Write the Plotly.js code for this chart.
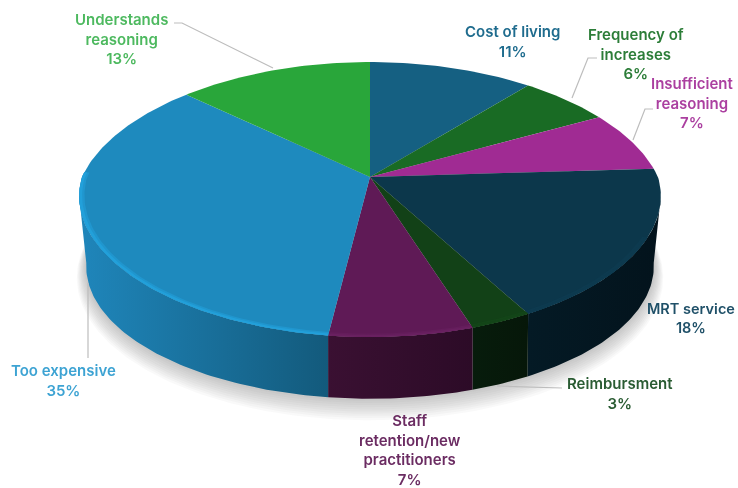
<!DOCTYPE html>
<html>
<head>
<meta charset="utf-8">
<script src="https://cdn.plot.ly/plotly-3.0.1.min.js"></script>
<style>html,body{margin:0;padding:0;background:#fff}#chart{width:738px;height:488px;filter:blur(0.45px)}</style>
</head>
<body>
<div id="chart"></div>
<script>
// ---- values ----
const categories = ["Cost of living","Frequency of<br>increases","Insufficient<br>reasoning","MRT service","Reimbursment","Staff<br>retention/new<br>practitioners","Too expensive","Understands<br>reasoning"];
const shares = [11,6,7,18,3,7,35,13];
const faceColors = ["#156082","#196B24","#A02B93","#0C374B","#124117","#5F1A56","#1E8ABE","#29A63A"];
const wallLeft  = ["#156082","#196B24","#A02B93","#041A25","#071C0C","#3A1032","#1F86BB","#29A63A"];
const wallRight = ["#156082","#196B24","#A02B93","#03131C","#061709","#2C0B27","#135A7C","#29A63A"];
const rimColors = [null,null,null,"#0D3A4F","#134518","#692060","#22A0DA",null];
const rimSoft   = [null,null,null,"#0D3A4F","#134518","#641D5B","#2096CE",null];
const labelColors = ["#1F6C8E","#2C7D38","#AB3FA0","#1F5068","#2A5C33","#6B2C62","#3DA3D3","#4DB95F"];
const labelX = [512,636,692,691,620,410,63,121];
const labelY = [41,54,103,318,393,450,380,39];

// ---- projection of the tilted disc ----
const cx = 370;
const top_ = {A:288, a:133.8, y0:177, wy:0.1636, wBack:0.21, wFront:0.14};
const bot_ = {A:280, a:129, y0:244.5, wy:0.1636, wBack:0.1636, wFront:0.1636};
function pt(g, deg, r){
  const t = deg*Math.PI/180, u = r*Math.sin(t), v = -r*Math.cos(t);
  const wx = v<0 ? g.wBack : g.wFront;
  return [cx + g.A*u/(1-wx*v), g.y0 + g.a*v/(1-g.wy*v)];
}
function arc(g, from, to, r){
  const out = [], n = Math.max(2, Math.ceil(Math.abs(to-from)));
  for(let i=0;i<=n;i++) out.push(pt(g, from+(to-from)*i/n, r));
  return out;
}
function poly(points, extra){
  return Object.assign({type:"scatter", mode:"lines", x:points.map(p=>p[0]), y:points.map(p=>p[1]),
    fill:"toself", line:{width:0}, hoverinfo:"skip", showlegend:false}, extra);
}

const total = shares.reduce((s,v)=>s+v,0);
const edges = [0];
shares.forEach(v=>edges.push(edges[edges.length-1]+v/total*360));

const traces = [];
// soft ground shadow
for(let i=10;i>=1;i--){
  const g = Object.assign({},bot_,{A:bot_.A*(1+i*0.0033), a:bot_.a*(1+i*0.0075), y0:bot_.y0+i*1.0});
  traces.push(poly(arc(g,0,360,1), {fillcolor:"rgba(90,90,90,0.036)"}));
}
// walls
const VIS0 = 98, VIS1 = 262;
shares.forEach((v,i)=>{
  const a = Math.max(edges[i],VIS0), b = Math.min(edges[i+1],VIS1);
  if(b<=a) return;
  const pts = arc(top_,a,b,1).concat(arc(bot_,b,a,1));
  traces.push(poly(pts,{fillcolor:wallLeft[i], fillgradient:{type:"horizontal",colorscale:[[0,wallLeft[i]],[1,wallRight[i]]]}}));
});
// faces
shares.forEach((v,i)=>{
  const pts = [[cx,top_.y0]].concat(arc(top_,edges[i],edges[i+1],1));
  traces.push(poly(pts,{fillcolor:faceColors[i]}));
});
// lit bevel along the front edge
shares.forEach((v,i)=>{
  if(!rimColors[i]) return;
  const a = Math.max(edges[i],115), b = Math.min(edges[i+1],272);
  if(b<=a) return;
  traces.push(poly(arc(top_,a,b,1).concat(arc(top_,b,a,0.982)),{fillcolor:rimSoft[i]}));
  traces.push(poly(arc(top_,a,b,1).concat(arc(top_,b,a,0.99)),{fillcolor:rimColors[i]}));
});

const annotations = categories.map((c,i)=>({
  xref:"x", yref:"y", x:labelX[i], y:labelY[i], xanchor:"center", yanchor:"middle", align:"center",
  showarrow:false, borderpad:0,
  text:c+"<br>"+shares[i]+"%",
  font:{family:"Inter, sans-serif", size:i===3?14.5:15, color:labelColors[i], weight:600}
}));

const leader = d => ({type:"path", path:d, xref:"x", yref:"y", line:{color:"#BDBDBD", width:1.2}});
const shapes = [
  leader("M174,23 L182,23 L273,68"),
  leader("M597,58 L588,58 L572,98"),
  leader("M653,109 L645,109 L633,140"),
  leader("M88,283 L88,358"),
  leader("M497,386 L562,388")
];

Plotly.newPlot("chart", traces, {
  width:738, height:488, margin:{l:0,r:0,t:0,b:0},
  paper_bgcolor:"#fff", plot_bgcolor:"#fff", showlegend:false, hovermode:false,
  xaxis:{range:[0,738], visible:false, fixedrange:true},
  yaxis:{range:[488,0], visible:false, fixedrange:true},
  annotations, shapes
}, {displayModeBar:false, staticPlot:true});
</script>
</body>
</html>
